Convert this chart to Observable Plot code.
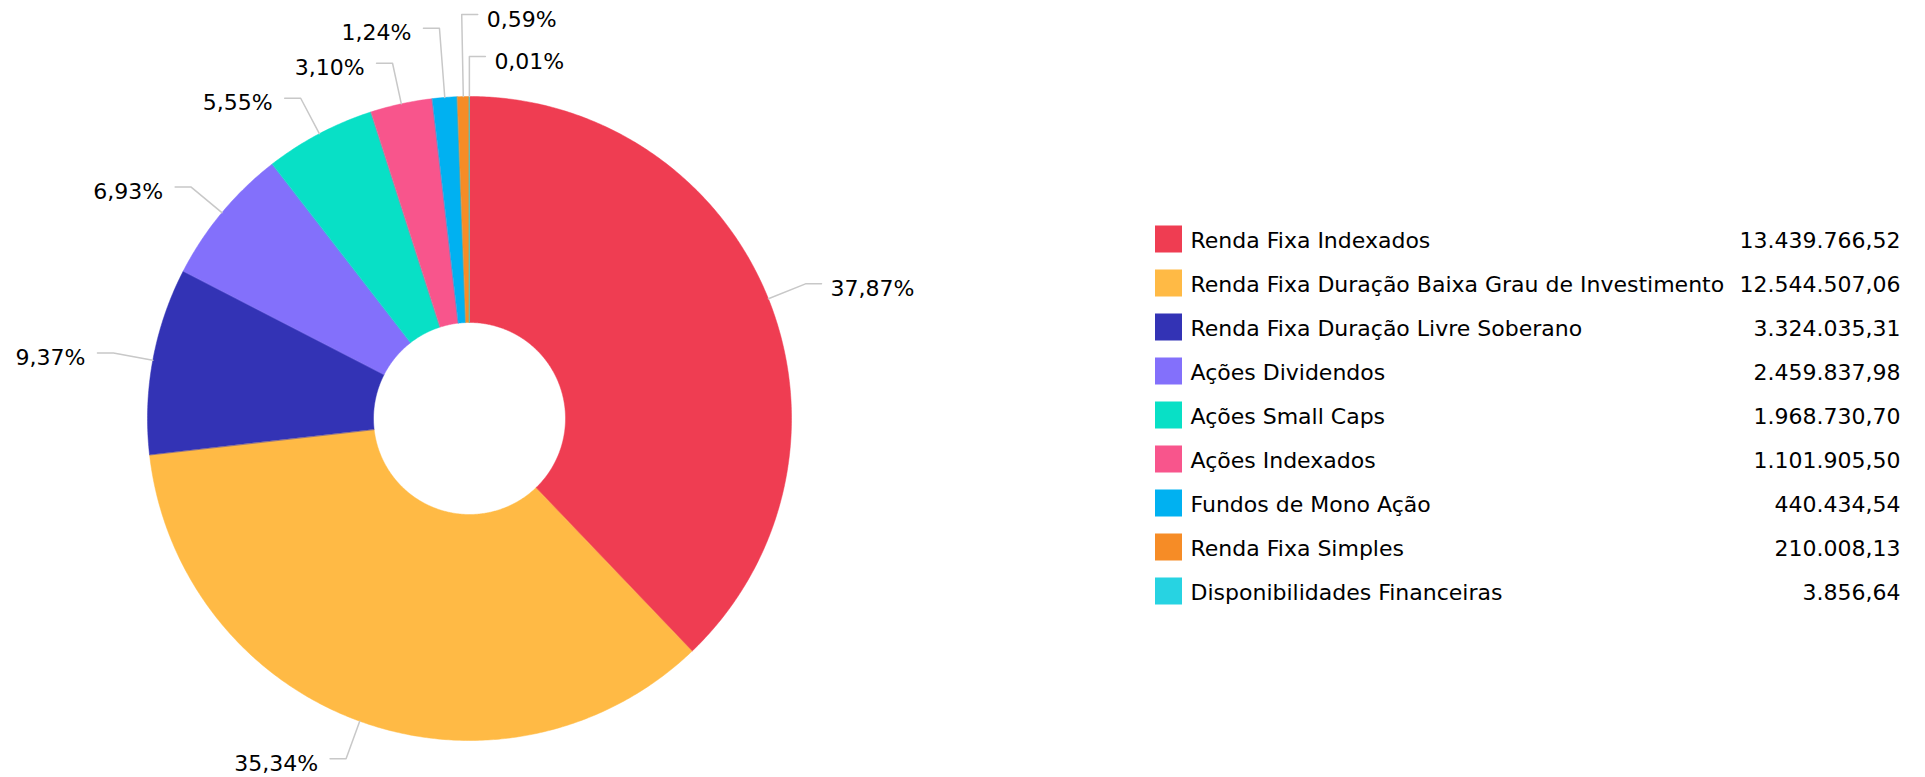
<!DOCTYPE html>
<html><head><meta charset="utf-8">
<script src="https://cdn.jsdelivr.net/npm/d3@7"></script>
<script src="https://cdn.jsdelivr.net/npm/@observablehq/plot@0.6"></script>
<style>html,body{margin:0;padding:0;background:#fff;} #chart svg{display:block;}</style>
</head><body><div id="chart"></div>
<script>
const categories = ["Renda Fixa Indexados","Renda Fixa Duração Baixa Grau de Investimento","Renda Fixa Duração Livre Soberano","Ações Dividendos","Ações Small Caps","Ações Indexados","Fundos de Mono Ação","Renda Fixa Simples","Disponibilidades Financeiras"];
const values = [13439766.52, 12544507.06, 3324035.31, 2459837.98, 1968730.70, 1101905.50, 440434.54, 210008.13, 3856.64];
const colors = ["#EF3D52","#FFBA45","#3333B5","#8370FB","#08E0C6","#F8558C","#00B1F1","#F68C26","#27D3E2"];

const W = 1925, H = 777;
const cx = 469, cy = 418, R = 322, R0 = 96, Rlabel = 362;
const locale = d3.formatLocale({decimal: ",", thousands: ".", grouping: [3], currency: ["", ""]});
const fmtVal = locale.format(",.2f");
const fmtPct = p => locale.format(".2f")(p) + "%";
const total = d3.sum(values);

let acc = 0;
const slices = values.map((v, i) => {
  const a0 = acc / total * 2 * Math.PI; acc += v;
  const a1 = acc / total * 2 * Math.PI;
  return {i, a0, a1, mid: (a0 + a1) / 2, color: colors[i], name: categories[i], value: v, pct: v / total * 100};
});
const pt = (a, r) => [cx + r * Math.sin(a), cy - r * Math.cos(a)];

const poly = [];
for (const s of slices) {
  const n = Math.max(2, Math.ceil((s.a1 - s.a0) / (Math.PI / 360)));
  for (let k = 0; k <= n; k++) { const a = s.a0 + (s.a1 - s.a0) * k / n; const [x, y] = pt(a, R); poly.push({x, y, key: s.i, color: s.color}); }
  for (let k = n; k >= 0; k--) { const a = s.a0 + (s.a1 - s.a0) * k / n; const [x, y] = pt(a, R0); poly.push({x, y, key: s.i, color: s.color}); }
}

// label layout
const labels = slices.map(s => {
  const right = Math.sin(s.mid) > -0.05;
  const [bx, by] = pt(s.mid, Rlabel);
  return {...s, right, bx, by, y: by, label: fmtPct(s.pct)};
});
{
  const L = labels.filter(l => !l.right).sort((a, b) => a.mid - b.mid);
  let prev = Infinity;
  for (const l of L) { if (l.y > prev - 35) l.y = prev - 35; prev = l.y; }
  const norm = a => a > Math.PI * 1.5 ? a - 2 * Math.PI : a;
  const Rr = labels.filter(l => l.right).sort((a, b) => norm(b.mid) - norm(a.mid));
  prev = Infinity;
  for (const l of Rr) { if (l.y > prev - 42) l.y = prev - 42; prev = l.y; }
}
const leaders = [];
for (const l of labels) {
  if (l.y !== l.by) { const t = (cy - l.y) / Math.cos(l.mid); l.bx = cx + t * Math.sin(l.mid); }
  const [ax, ay] = pt(l.mid, R);
  const cxp = l.bx + (l.right ? 16 : -16);
  l.tx = cxp + (l.right ? 9 : -12);
  leaders.push({key: l.i, x: ax, y: ay}, {key: l.i, x: l.bx, y: l.y}, {key: l.i, x: cxp, y: l.y});
}

// legend
const legX = 1155, legSw = 27, legTop = 239, legStep = 44, legTextX = 1190, legValX = 1900;
const legend = categories.map((c, i) => ({name: c, val: fmtVal(values[i]), color: colors[i], y: legTop + i * legStep}));

const chart = Plot.plot({
  width: W, height: H, margin: 0,
  x: {domain: [0, W], range: [0, W], axis: null},
  y: {domain: [0, H], range: [0, H], axis: null},
  color: {type: "identity"},
  style: {fontFamily: "'DejaVu Sans', Verdana, sans-serif", fontSize: "22px", background: "white", color: "black"},
  marks: [
    Plot.line(poly, {x: "x", y: "y", z: "key", fill: "color", stroke: "color", strokeWidth: 0.5, curve: "linear-closed"}),
    Plot.line(leaders, {x: "x", y: "y", z: "key", stroke: "#c8c8c8", strokeWidth: 1.5}),
    Plot.text(labels.filter(l => l.right), {x: "tx", y: "y", text: "label", textAnchor: "start", dy: 5, fontSize: 22, fill: "#000"}),
    Plot.text(labels.filter(l => !l.right), {x: "tx", y: "y", text: "label", textAnchor: "end", dy: 5, fontSize: 22, fill: "#000"}),
    Plot.rect(legend, {x1: () => legX, x2: () => legX + legSw, y1: d => d.y - legSw / 2, y2: d => d.y + legSw / 2, fill: "color"}),
    Plot.text(legend, {x: () => legTextX, y: "y", text: "name", textAnchor: "start", dy: 1.5, fontSize: 22, fill: "#000"}),
    Plot.text(legend, {x: () => legValX, y: "y", text: "val", textAnchor: "end", dy: 1.5, fontSize: 22, fill: "#000"})
  ]
});
document.getElementById("chart").appendChild(chart);
</script>
</body></html>
